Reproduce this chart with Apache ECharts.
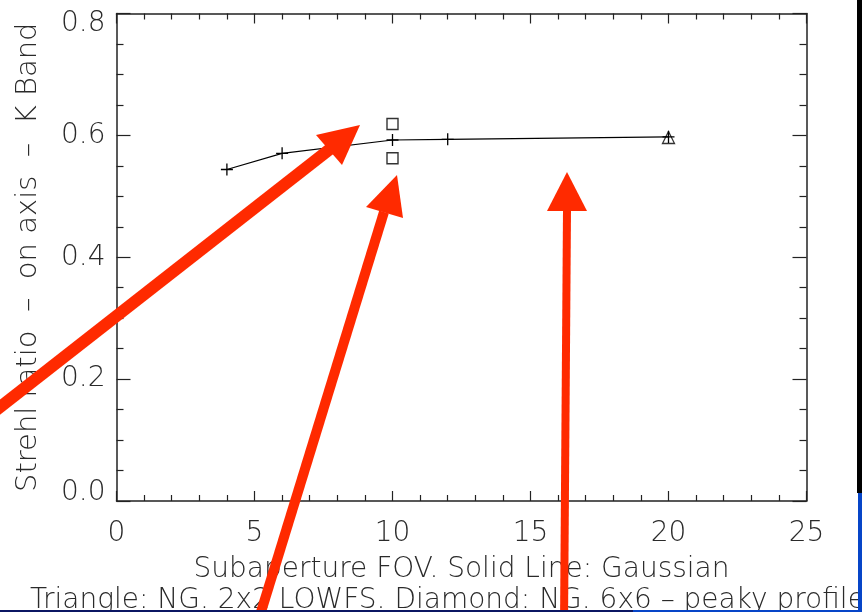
<!DOCTYPE html>
<html>
<head>
<meta charset="utf-8">
<script src="https://cdn.jsdelivr.net/npm/echarts@6/dist/echarts.min.js"></script>
<style>html,body{margin:0;padding:0;background:#fff}#c{width:862px;height:612px}</style>
</head>
<body>
<div id="c"></div>
<script>
// Data
const gaussX = [4, 6, 10, 12, 20];
const gaussY = [0.544, 0.5705, 0.5924, 0.5935, 0.5975];
const diamondX = [10, 10];
const diamondY = [0.6187, 0.5624];
const triangleX = [20];
const triangleY = [0.5965];
const xTicks = [0, 5, 10, 15, 20, 25];
const yTicks = [0.0, 0.2, 0.4, 0.6, 0.8];
const xTitle = 'Subaperture FOV. Solid Line: Gaussian';
const xTitle2 = 'Triangle: NG. 2x2 LOWFS. Diamond: NG. 6x6 \u2013 peaky profile';
const yTitle = 'Strehl ratio  \u2013  on axis  \u2013  K Band';

const FONT = 'DejaVu Sans';
const FS = 28;
const TXT = '#2a2a2a';
const AX = '#222';
const RED = '#ff2a00';

const chart = echarts.init(document.getElementById('c'), null, {renderer: 'canvas'});

function zip(xs, ys) { return xs.map((x, i) => [x, ys[i]]); }

const crossPath = 'path://M0,5L10,5M5,0L5,10';

function xAxisDef(pos, showLabel) {
  return {
    type: 'value', position: pos, min: xTicks[0], max: xTicks[xTicks.length - 1], interval: 5,
    axisLine: {show: true, onZero: false, lineStyle: {color: AX, width: 1.5}},
    axisTick: {show: true, inside: true, length: 10, lineStyle: {color: AX, width: 1.2}},
    minorTick: {show: true, splitNumber: 5, length: 6, lineStyle: {color: AX, width: 1.2}},
    splitLine: {show: false},
    axisLabel: {show: showLabel, margin: 19, color: TXT, fontFamily: FONT, fontSize: FS, fontWeight: 200},
    name: showLabel ? xTitle : '', nameLocation: 'middle', nameGap: 55,
    nameTextStyle: {color: TXT, fontFamily: FONT, fontSize: FS, fontWeight: 200}
  };
}
function yAxisDef(pos, showLabel) {
  return {
    type: 'value', position: pos, min: 0, max: 0.8, interval: 0.2,
    axisLine: {show: true, onZero: false, lineStyle: {color: AX, width: 1.5}},
    axisTick: {show: true, inside: true, length: 14, lineStyle: {color: AX, width: 1.2}},
    minorTick: {show: true, splitNumber: 4, length: 7, lineStyle: {color: AX, width: 1.2}},
    splitLine: {show: false},
    axisLabel: {
      show: showLabel, margin: 11, color: TXT, fontFamily: FONT, fontSize: FS, fontWeight: 200,
      formatter: function (v) {
        const s = v.toFixed(1);
        if (Math.abs(v - 0.8) < 1e-6) return '{top|' + s + '}';
        if (Math.abs(v) < 1e-6) return '{bot|' + s + '}';
        return s;
      },
      rich: {
        top: {fontFamily: FONT, fontSize: FS, fontWeight: 200, color: TXT, padding: [20, 0, 0, 0]},
        bot: {fontFamily: FONT, fontSize: FS, fontWeight: 200, color: TXT, padding: [0, 0, 16, 0]}
      }
    },
    name: showLabel ? yTitle : '', nameLocation: 'middle', nameGap: 74, nameRotate: 90,
    nameTextStyle: {color: TXT, fontFamily: FONT, fontSize: 29, fontWeight: 200}
  };
}

function arrow(x0, y0, bx, by, tip, c1, c2, w) {
  return [
    {type: 'line', z: 100, shape: {x1: x0, y1: y0, x2: bx, y2: by}, style: {stroke: RED, lineWidth: w}},
    {type: 'polygon', z: 101, shape: {points: [tip, c1, c2]}, style: {fill: RED}}
  ];
}

const option = {
  backgroundColor: '#fff',
  animation: false,
  grid: {left: 116.5, right: 55.5, top: 13.5, bottom: 111, containLabel: false},
  xAxis: [xAxisDef('bottom', true), xAxisDef('top', false)],
  yAxis: [yAxisDef('left', true), yAxisDef('right', false)],
  series: [
    {
      type: 'line', data: zip(gaussX, gaussY), xAxisIndex: 0, yAxisIndex: 0,
      symbol: crossPath, symbolSize: 12, showSymbol: true,
      lineStyle: {color: '#000', width: 1.2},
      itemStyle: {color: 'none', borderColor: '#000', borderWidth: 1.3}
    },
    {
      type: 'scatter', data: zip(diamondX, diamondY), symbol: 'rect', symbolSize: 11,
      itemStyle: {color: 'none', borderColor: '#000', borderWidth: 1.4}
    },
    {
      type: 'scatter', data: zip(triangleX, triangleY), symbol: 'triangle', symbolSize: 12,
      itemStyle: {color: 'none', borderColor: '#000', borderWidth: 1.3}
    }
  ],
  graphic: [
    {type: 'text', z: 50, left: 30, top: 587,
      style: {text: xTitle2, fill: TXT, font: '200 28px "DejaVu Sans"'}},
    ...arrow(-10, 415, 330, 149, [360, 125], [316, 135], [342, 165], 12),
    ...arrow(257, 625, 384, 212, [397, 175], [366, 207], [403, 218], 10),
    ...arrow(564, 625, 567, 210, [567, 172], [547, 211], [587, 211], 8),
    {type: 'rect', z: 120, shape: {x: 857, y: 0, width: 5, height: 493}, style: {fill: '#000'}},
    {type: 'rect', z: 120, shape: {x: 858, y: 493, width: 4, height: 119}, style: {fill: '#0645c8'}},
    {type: 'rect', z: 120, shape: {x: 0, y: 610, width: 633, height: 2}, style: {fill: '#0b1763'}},
    {type: 'rect', z: 120, shape: {x: 633, y: 610, width: 229, height: 2}, style: {fill: '#0645c8'}}
  ]
};
chart.setOption(option);
</script>
</body>
</html>
